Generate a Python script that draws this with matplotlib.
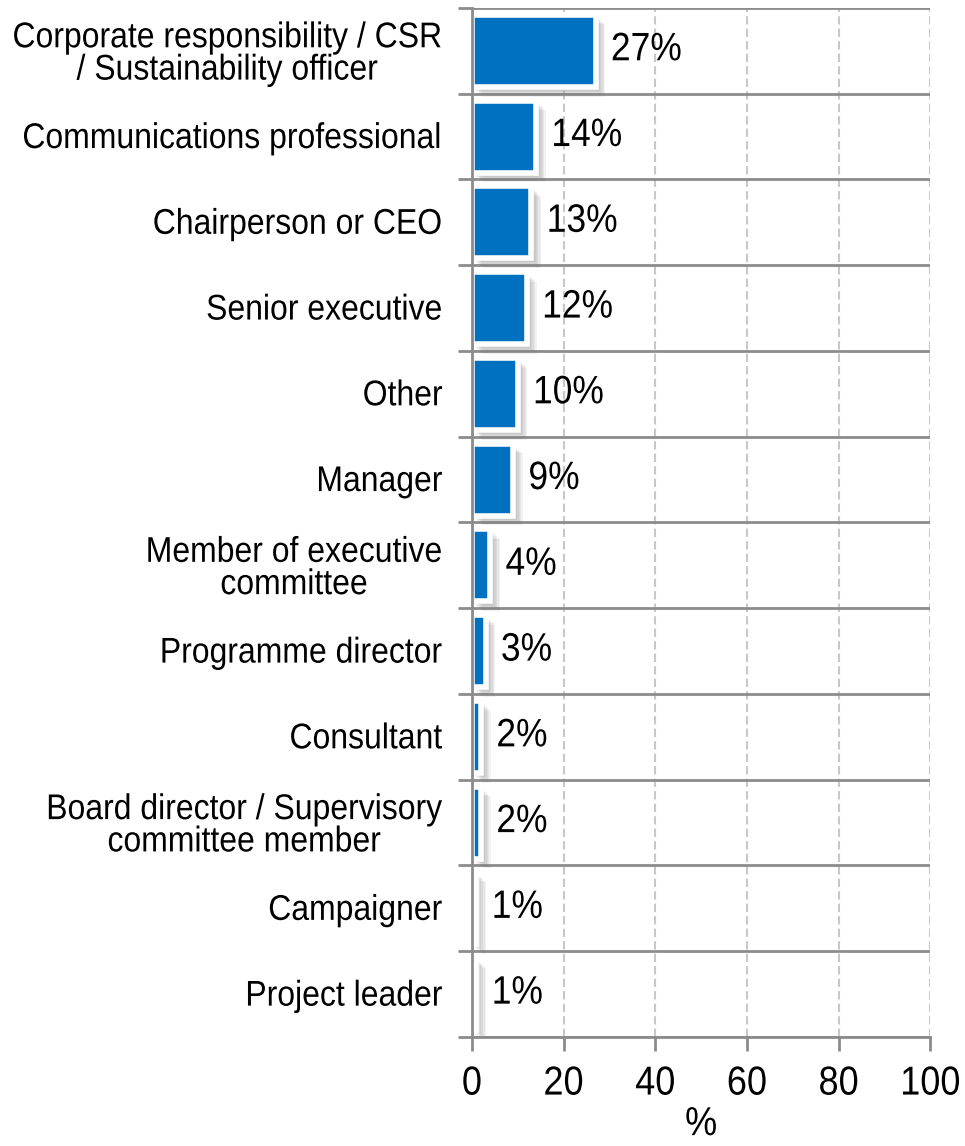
import numpy as np
import matplotlib
matplotlib.use('Agg')
import matplotlib.pyplot as plt
import matplotlib.patheffects as pe
from matplotlib.transforms import Affine2D

plt.rcParams['font.family'] = ['Liberation Sans', 'DejaVu Sans']

roles = ['Corporate responsibility / CSR\n/ Sustainability officer',
         'Communications professional',
         'Chairperson or CEO',
         'Senior executive',
         'Other',
         'Manager',
         'Member of executive\ncommittee',
         'Programme director',
         'Consultant',
         'Board director / Supervisory\ncommittee member',
         'Campaigner',
         'Project leader']
shares = [27, 14, 13, 12, 10, 9, 4, 3, 2, 2, 1, 1]
xticks = [0, 20, 40, 60, 80, 100]

bar_color = '#0070C0'
grid_gray = '#8c8c8c'


class TallText(pe.AbstractPathEffect):
    """Draw glyphs a little taller, scaled up from the baseline."""
    def __init__(self, sy=1.12):
        super().__init__()
        self._sy = sy

    def draw_path(self, renderer, gc, tpath, affine, rgbFace=None):
        renderer.draw_path(gc, tpath, Affine2D().scale(1, self._sy) + affine, rgbFace)


tall = [TallText(1.12)]

fig = plt.figure(figsize=(9.65, 11.46), dpi=100)
ax = fig.add_axes([0.489, 0.0951, 0.475, 0.898])

pos = np.arange(len(roles))
bars = ax.barh(pos, shares, height=0.84, color=bar_color,
               edgecolor='white', linewidth=4, zorder=3)

# soft drop shadow: a few faint copies stepped down and to the right
soft = [pe.SimplePatchShadow(offset=(k, -k), shadow_rgbFace='#707070', alpha=0.09)
        for k in (7, 6, 5, 4, 3, 2)]
for b in bars:
    b.set_path_effects(soft + [pe.Normal()])

for p, v in zip(pos, shares):
    t = ax.annotate('{}%'.format(v), xy=(v, p), xytext=(11, 0), textcoords='offset points',
                    ha='left', va='center', fontsize=25.5, zorder=4)
    t.set_path_effects(tall)

ax.set_xlim(0, 100)
ax.set_ylim(len(roles) - 0.5, -0.5)

# category labels at centres, separator lines at the boundaries
ax.set_yticks(pos)
ax.set_yticklabels(roles, fontsize=23, multialignment='center', linespacing=1.1)
ax.set_yticks(np.arange(len(roles) + 1) - 0.5, minor=True)
ax.tick_params(axis='y', which='major', length=0, pad=21)
ax.tick_params(axis='y', which='minor', length=10, width=2, color=grid_gray)
ax.grid(axis='y', which='minor', color=grid_gray, linewidth=2, zorder=1)

ax.set_xticks(xticks)
ax.tick_params(axis='x', length=10, width=2, color=grid_gray, labelsize=26, pad=12)
ax.grid(axis='x', which='major', color='#c8c8c8', linestyle=(0, (4, 2)), linewidth=1.5, zorder=1)
xl = ax.set_xlabel('%', fontsize=26, labelpad=4)
xl.set_path_effects(tall)

for lab in ax.get_yticklabels() + ax.get_xticklabels():
    lab.set_path_effects(tall)

for side in ['top', 'right']:
    ax.spines[side].set_visible(False)
for side in ['left', 'bottom']:
    ax.spines[side].set_color(grid_gray)
    ax.spines[side].set_linewidth(2)
    ax.spines[side].set_zorder(5)

fig.savefig('out.png', dpi=100)
